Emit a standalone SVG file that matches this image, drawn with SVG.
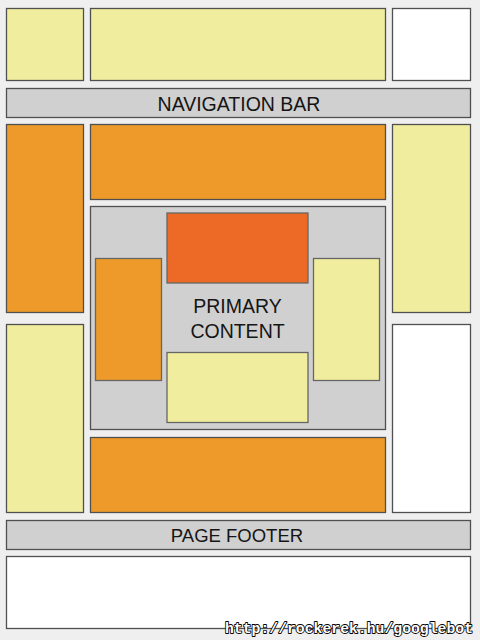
<svg xmlns="http://www.w3.org/2000/svg" width="480" height="640" viewBox="0 0 480 640">
<style>
rect{stroke:#505050;stroke-width:1.3}
.y{fill:#f0ee9e}
.o{fill:#ee9a2a}
.r{fill:#ec6a26}
.g{fill:#d0d0d0}
.w{fill:#ffffff}
.lbl{font-family:"Liberation Sans",Arial,sans-serif;fill:#151515;text-anchor:middle}
.wm{font-family:"Liberation Mono","DejaVu Sans Mono",monospace;font-weight:bold;font-size:15.5px;fill:#ffffff;stroke:#000000;stroke-width:1.8;paint-order:stroke;stroke-linejoin:round}
</style>
<rect x="0" y="0" width="480" height="640" fill="#efefef" style="stroke:none"/>
<g id="top-left"><rect class="y" x="6.5" y="8.5" width="77" height="72"/></g>
<g id="top-center"><rect class="y" x="90.5" y="8.5" width="295" height="72"/></g>
<g id="top-right"><rect class="w" x="392.5" y="8.5" width="78" height="72"/></g>
<g id="nav-bar"><rect class="g" x="6.5" y="88.5" width="464" height="29"/><text class="lbl" x="239" y="110.5" font-size="19.5">NAVIGATION BAR</text></g>
<g id="left-upper"><rect class="o" x="6.5" y="124.5" width="77" height="188"/></g>
<g id="center-upper"><rect class="o" x="90.5" y="124.5" width="295" height="75"/></g>
<g id="right-upper"><rect class="y" x="392.5" y="124.5" width="78" height="188"/></g>
<g id="primary-content">
<rect class="g" x="90.5" y="206.5" width="295" height="223"/>
<text class="lbl" x="237.5" y="313" font-size="19.5">PRIMARY</text>
<text class="lbl" x="237.5" y="337.5" font-size="19.5">CONTENT</text>
</g>
<g id="inner-top"><rect class="r" x="167" y="213" width="141" height="70" style="stroke:#666"/></g>
<g id="inner-left"><rect class="o" x="95.5" y="258.5" width="66" height="122" style="stroke:#666"/></g>
<g id="inner-right"><rect class="y" x="313.5" y="258.5" width="66" height="122" style="stroke:#666"/></g>
<g id="inner-bottom"><rect class="y" x="167" y="352.5" width="141" height="70" style="stroke:#666"/></g>
<g id="left-lower"><rect class="y" x="6.5" y="324.5" width="77" height="188"/></g>
<g id="right-lower"><rect class="w" x="392.5" y="324.5" width="78" height="188"/></g>
<g id="center-lower"><rect class="o" x="90.5" y="437.5" width="295" height="75"/></g>
<g id="page-footer"><rect class="g" x="6.5" y="520.5" width="464" height="29"/><text class="lbl" x="237" y="541.5" font-size="18.5">PAGE FOOTER</text></g>
<g id="bottom"><rect class="w" x="6.5" y="556.5" width="464" height="72"/></g>
<g id="connectors"></g>
<text class="wm" x="225" y="633" textLength="248" lengthAdjust="spacingAndGlyphs">http://rockerek.hu/googlebot</text>
</svg>
